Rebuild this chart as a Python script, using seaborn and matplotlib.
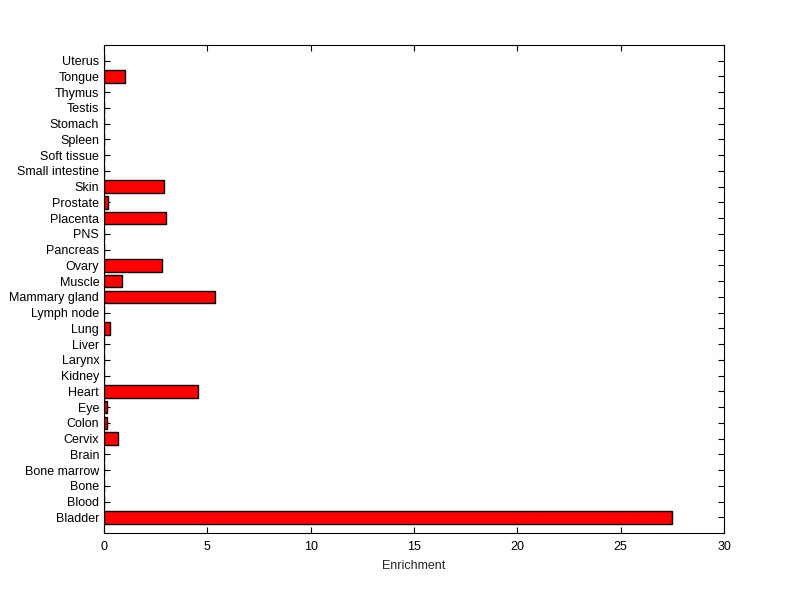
import matplotlib
matplotlib.use("Agg")
import matplotlib.pyplot as plt
import seaborn as sns
import pandas as pd

# --- Data (bottom to top as drawn in the reference) ---
tissues = ["Bladder", "Blood", "Bone", "Bone marrow", "Brain", "Cervix", "Colon",
           "Eye", "Heart", "Kidney", "Larynx", "Liver", "Lung", "Lymph node",
           "Mammary gland", "Muscle", "Ovary", "Pancreas", "PNS", "Placenta",
           "Prostate", "Skin", "Small intestine", "Soft tissue", "Spleen",
           "Stomach", "Testis", "Thymus", "Tongue", "Uterus"]
enrichment = [27.5, 0, 0, 0, 0, 0.70, 0.15,
              0.15, 4.57, 0, 0, 0, 0.29, 0,
              5.35, 0.89, 2.83, 0, 0, 3.02,
              0.19, 2.88, 0, 0, 0,
              0, 0, 0, 1.04, 0]
xticks = [0, 5, 10, 15, 20, 25, 30]

df = pd.DataFrame({"tissue": tissues, "enrichment": enrichment})

# --- Style ---
sns.set_style("white")
plt.rcParams["font.family"] = ["Liberation Sans", "DejaVu Sans"]
plt.rcParams["font.size"] = 9

fig = plt.figure(figsize=(8, 5.99), dpi=100)
ax = fig.add_axes([0.13, 0.11, 0.775, 0.815])

# seaborn puts the first category at the top, so reverse the order
sns.barplot(data=df, x="enrichment", y="tissue", order=tissues[::-1],
            orient="h", color="#ff0000", saturation=1, width=0.8,
            edgecolor="black", linewidth=1, ax=ax)

ax.set_xlim(0, 30)
ax.set_ylim(len(tissues), -1)
ax.set_xticks(xticks)
ax.set_xlabel("Enrichment", fontsize=9, labelpad=5)
ax.set_ylabel("")

ax.tick_params(axis="both", direction="in", length=4.5, width=0.8, labelsize=9,
               top=True, right=True, left=True, bottom=True, colors="black")
ax.tick_params(axis="x", pad=6)
for s in ax.spines.values():
    s.set_visible(True)
    s.set_color("black")
    s.set_linewidth(0.8)

fig.savefig("out.png", dpi=100, facecolor="white")
